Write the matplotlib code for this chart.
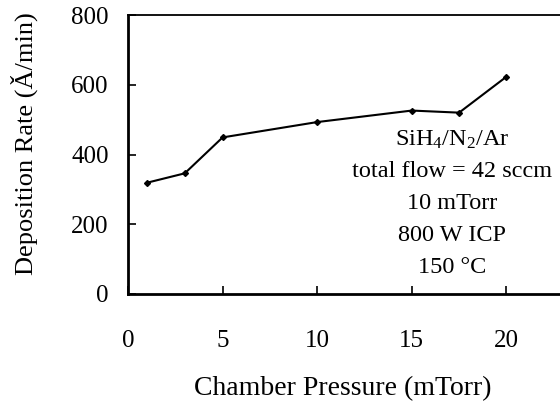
import matplotlib.pyplot as plt

# data
pressure = [1, 3, 5, 10, 15, 17.5, 20]
rate = [319, 346, 449, 493, 526, 520, 623]
x_ticks = [0, 5, 10, 15, 20]
y_ticks = [0, 200, 400, 600, 800]
notes = ["SiH$_4$/N$_2$/Ar", "total flow = 42 sccm", "10 mTorr", "800 W ICP", "150 °C"]

plt.rcParams['font.family'] = ['Liberation Serif', 'DejaVu Serif']
plt.rcParams['mathtext.fontset'] = 'custom'
plt.rcParams['mathtext.rm'] = 'Liberation Serif'
plt.rcParams['mathtext.it'] = 'Liberation Serif'

fig = plt.figure(figsize=(5.6, 4.04), dpi=100)
# the right end of the axis (x = 25) lies outside the picture, as in the reference
ax = fig.add_axes([128 / 560, 110 / 404, 473 / 560, 279 / 404])

ax.plot(pressure, rate, color='black', linewidth=1.5, marker='D', markersize=3)

ax.set_xlim(0, 25)
ax.set_ylim(0, 800)
ax.set_xticks(x_ticks)
ax.set_yticks(y_ticks)
ax.tick_params(direction='in', length=6, width=1.2, labelsize=18)
ax.tick_params(axis='x', pad=26)
ax.tick_params(axis='y', pad=14)

ax.spines['left'].set_linewidth(2)
ax.spines['bottom'].set_linewidth(2)
ax.spines['top'].set_linewidth(1.3)
ax.spines['right'].set_visible(False)

ax.set_xlabel("Chamber Pressure (mTorr)", fontsize=20)
ax.set_ylabel("Deposition Rate (Ǎ/min)", fontsize=19)
ax.xaxis.set_label_coords(0.4545, -0.295)
ax.yaxis.set_label_coords(-0.19, 0.538)

for i, line in enumerate(notes):
    ax.text(17.15, 442 - i * 91.5, line, ha='center', va='center', fontsize=17.5)

fig.savefig('out.png', dpi=100)
